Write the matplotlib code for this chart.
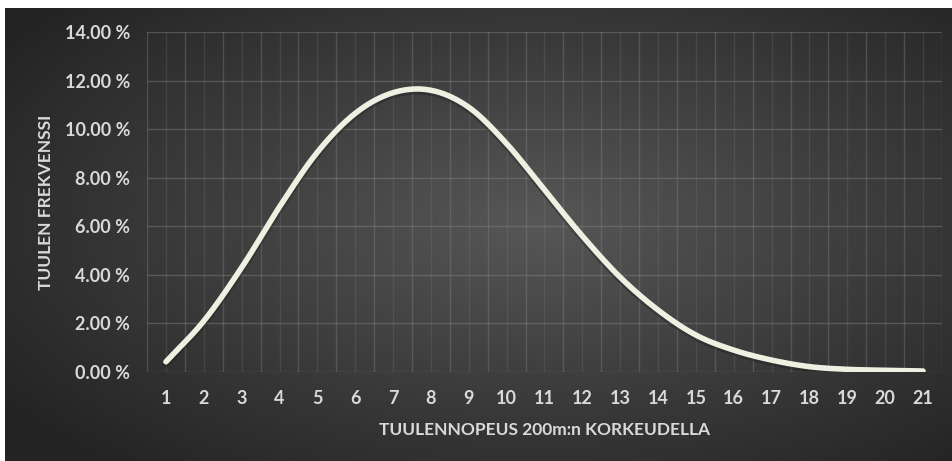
import numpy as np
import matplotlib
matplotlib.use("Agg")
import matplotlib.pyplot as plt
from matplotlib.ticker import FuncFormatter

# tuulen nopeus (m/s) ja frekvenssi (%)
nopeus = list(range(1, 22))
frekvenssi = [0.42, 2.1, 4.3, 6.8, 9.05, 10.65, 11.5, 11.6, 10.9, 9.4,
              7.5, 5.6, 3.9, 2.55, 1.52, 0.9, 0.49, 0.22, 0.11, 0.07, 0.04]
y_ticks = [0, 2, 4, 6, 8, 10, 12, 14]

plt.rcParams['font.family'] = ['Lato', 'DejaVu Sans']


# pehmennetty viiva kuten excelissa (catmull-rom)
def pehmenna(x, y, n=20):
    x = np.asarray(x, float)
    y = np.asarray(y, float)
    px = np.concatenate([[2 * x[0] - x[1]], x, [2 * x[-1] - x[-2]]])
    py = np.concatenate([[2 * y[0] - y[1]], y, [2 * y[-1] - y[-2]]])
    xs, ys = [], []
    t = np.linspace(0, 1, n, endpoint=False)
    for i in range(1, len(px) - 2):
        for p, out in ((px, xs), (py, ys)):
            p0, p1, p2, p3 = p[i - 1], p[i], p[i + 1], p[i + 2]
            out.extend(0.5 * (2 * p1 + (-p0 + p2) * t
                              + (2 * p0 - 5 * p1 + 4 * p2 - p3) * t ** 2
                              + (-p0 + 3 * p1 - 3 * p2 + p3) * t ** 3))
    xs.append(x[-1])
    ys.append(y[-1])
    return np.array(xs), np.array(ys)


fig = plt.figure(figsize=(9.53, 4.61), dpi=100)
fig.patch.set_facecolor('white')

# tumma tausta, jossa vaaleampi keskusta
bg = fig.add_axes([5 / 953, 0, 948 / 953, 453 / 461])
bg.set_axis_off()
gx, gy = np.meshgrid(np.linspace(-1, 1, 400), np.linspace(-1, 1, 200))
r = np.sqrt(((gx - 0.12) / 1.05) ** 2 + ((gy + 0.05) / 1.1) ** 2)
val = 0.34 - 0.2 * np.clip(r, 0, 1.3) / 1.3
bg.imshow(np.dstack([val, val, val]), aspect='auto', extent=[0, 1, 0, 1],
          interpolation='bilinear')
bg.set_xlim(0, 1)
bg.set_ylim(0, 1)

ax = fig.add_axes([147 / 953, 1 - 372 / 461, 795 / 953, 340 / 461])
ax.set_facecolor('none')
for s in ax.spines.values():
    s.set_visible(False)

ax.set_xlim(0.5, 21.5)
ax.set_ylim(0, 14)
ax.set_xticks(nopeus)
ax.set_xticks(np.arange(0.5, 22, 1), minor=True)
ax.set_yticks(y_ticks)
ax.yaxis.set_major_formatter(FuncFormatter(lambda v, p: f'{v:.2f} %'))
ax.tick_params(which='both', length=0, colors='#d9d9d9')
ax.tick_params(axis='x', pad=13, labelsize=13)
ax.tick_params(axis='y', pad=12, labelsize=13)
for lab in ax.get_xticklabels() + ax.get_yticklabels():
    lab.set_fontweight('bold')

ax.grid(which='minor', axis='x', color='#8a8a8a', alpha=0.35, lw=1)
ax.grid(which='major', axis='x', color='#8a8a8a', alpha=0.2, lw=1)
ax.grid(which='major', axis='y', color='#8a8a8a', alpha=0.4, lw=1)
ax.set_axisbelow(True)

sx, sy = pehmenna(nopeus, frekvenssi)
ax.plot(sx, sy - 0.08, color='#1a1a1a', lw=5.2, alpha=0.35,
        solid_capstyle='round')
ax.plot(sx, sy, color='#f0f0e2', lw=4, solid_capstyle='round')

ax.set_xlabel('TUULENNOPEUS 200m:n KORKEUDELLA', color='#d9d9d9',
              fontsize=12.5, fontweight='bold', labelpad=11)
ax.set_ylabel('TUULEN FREKVENSSI', color='#d9d9d9', fontsize=12.5,
              fontweight='bold', labelpad=8)

fig.savefig('out.png', dpi=100)
